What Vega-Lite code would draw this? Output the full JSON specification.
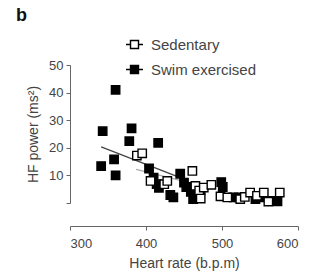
{
  "$schema": "https://vega.github.io/schema/vega-lite/v6.json",
  "width": 228,
  "height": 138,
  "autosize": "none",
  "padding": {"left": 70, "top": 65, "right": 24, "bottom": 76},
  "background": "white",
  "config": {
    "view": {"stroke": null},
    "font": "Liberation Sans",
    "axis": {
      "grid": false,
      "domainColor": "#666",
      "tickColor": "#666",
      "tickSize": 4,
      "labelColor": "#444",
      "titleColor": "#444",
      "labelFontSize": 13,
      "titleFontSize": 14,
      "titleFontWeight": "normal",
      "labelOverlap": false
    }
  },
  "title": {
    "text": "b",
    "anchor": "start",
    "frame": "group",
    "fontSize": 18,
    "fontWeight": "bold",
    "color": "#111",
    "dx": -54,
    "offset": 10
  },
  "datasets": {
    "points": [
      {"group": "Swim exercised", "hr": 343, "hf": 26},
      {"group": "Swim exercised", "hr": 360, "hf": 41},
      {"group": "Swim exercised", "hr": 381, "hf": 27},
      {"group": "Swim exercised", "hr": 378, "hf": 22.4},
      {"group": "Swim exercised", "hr": 416, "hf": 21.8},
      {"group": "Swim exercised", "hr": 358, "hf": 15.8},
      {"group": "Swim exercised", "hr": 341, "hf": 13.4},
      {"group": "Swim exercised", "hr": 360, "hf": 10},
      {"group": "Swim exercised", "hr": 404, "hf": 12.5},
      {"group": "Swim exercised", "hr": 410, "hf": 9.2},
      {"group": "Swim exercised", "hr": 414, "hf": 6.8},
      {"group": "Swim exercised", "hr": 417, "hf": 5.5},
      {"group": "Swim exercised", "hr": 432, "hf": 2.9},
      {"group": "Swim exercised", "hr": 436, "hf": 2},
      {"group": "Swim exercised", "hr": 445, "hf": 10.6},
      {"group": "Swim exercised", "hr": 450, "hf": 7.4},
      {"group": "Swim exercised", "hr": 453, "hf": 5.8},
      {"group": "Swim exercised", "hr": 459, "hf": 4},
      {"group": "Swim exercised", "hr": 462, "hf": 1.4},
      {"group": "Swim exercised", "hr": 467, "hf": 2.5},
      {"group": "Swim exercised", "hr": 472, "hf": 4.8},
      {"group": "Swim exercised", "hr": 499, "hf": 7.6},
      {"group": "Swim exercised", "hr": 501, "hf": 5.8},
      {"group": "Swim exercised", "hr": 515, "hf": 2},
      {"group": "Swim exercised", "hr": 522, "hf": 2},
      {"group": "Swim exercised", "hr": 544, "hf": 1.4},
      {"group": "Swim exercised", "hr": 549, "hf": 2},
      {"group": "Swim exercised", "hr": 564, "hf": 0.8},
      {"group": "Swim exercised", "hr": 573, "hf": 0.6},
      {"group": "Sedentary", "hr": 388, "hf": 17.2},
      {"group": "Sedentary", "hr": 395, "hf": 18},
      {"group": "Sedentary", "hr": 406, "hf": 8},
      {"group": "Sedentary", "hr": 424, "hf": 6.8},
      {"group": "Sedentary", "hr": 428, "hf": 8},
      {"group": "Sedentary", "hr": 461, "hf": 11.6},
      {"group": "Sedentary", "hr": 465, "hf": 6.2},
      {"group": "Sedentary", "hr": 470, "hf": 4.5},
      {"group": "Sedentary", "hr": 472, "hf": 1.6},
      {"group": "Sedentary", "hr": 476, "hf": 5.6},
      {"group": "Sedentary", "hr": 486, "hf": 6.6},
      {"group": "Sedentary", "hr": 498, "hf": 2.4},
      {"group": "Sedentary", "hr": 507, "hf": 2},
      {"group": "Sedentary", "hr": 524, "hf": 1.4},
      {"group": "Sedentary", "hr": 530, "hf": 2.2},
      {"group": "Sedentary", "hr": 537, "hf": 3.8},
      {"group": "Sedentary", "hr": 546, "hf": 2.6},
      {"group": "Sedentary", "hr": 555, "hf": 3.8},
      {"group": "Sedentary", "hr": 561, "hf": 0.5},
      {"group": "Sedentary", "hr": 576, "hf": 3.8}
    ],
    "fitSwim": [
      {"hr": 341, "hf": 20.3},
      {"hr": 445, "hf": 9.2}
    ],
    "fitSed": [
      {"hr": 387, "hf": 12.2},
      {"hr": 470, "hf": 6.5}
    ]
  },
  "encoding": {
    "x": {
      "field": "hr",
      "type": "quantitative",
      "scale": {"domain": [300, 600], "nice": false},
      "axis": {
        "values": [300, 400, 500, 600],
        "offset": 23,
        "title": "Heart rate (b.p.m)",
        "labelPadding": 7,
        "titlePadding": 6
      }
    },
    "y": {
      "field": "hf",
      "type": "quantitative",
      "scale": {"domain": [0, 50], "nice": false},
      "axis": {
        "values": [0, 10, 20, 30, 40, 50],
        "labelExpr": "datum.value == 0 ? '' : datum.label",
        "title": "HF power (ms²)",
        "titlePadding": 8,
        "labelPadding": 3
      }
    }
  },
  "layer": [
    {
      "data": {"name": "fitSed"},
      "mark": {"type": "line", "strokeWidth": 1.3, "color": "#aaaaaa"}
    },
    {
      "data": {"name": "fitSwim"},
      "mark": {"type": "line", "strokeWidth": 1.3, "color": "#444444"}
    },
    {
      "data": {"name": "points"},
      "mark": {"type": "point", "shape": "square", "filled": true, "size": 70, "stroke": "black", "strokeWidth": 1.4, "opacity": 1},
      "encoding": {
        "fill": {
          "field": "group",
          "type": "nominal",
          "scale": {"domain": ["Sedentary", "Swim exercised"], "range": ["white", "black"]},
          "legend": {
            "orient": "none",
            "legendX": 55,
            "legendY": -30,
            "title": null,
            "symbolType": "M-1,0H-0.47M0.47,0H1M-0.47,-0.47H0.47V0.47H-0.47Z",
            "symbolSize": 289,
            "symbolStrokeColor": "black",
            "symbolStrokeWidth": 1.4,
            "labelFontSize": 15,
            "labelColor": "#444",
            "labelOffset": 7,
            "rowPadding": 7
          }
        }
      }
    }
  ]
}
